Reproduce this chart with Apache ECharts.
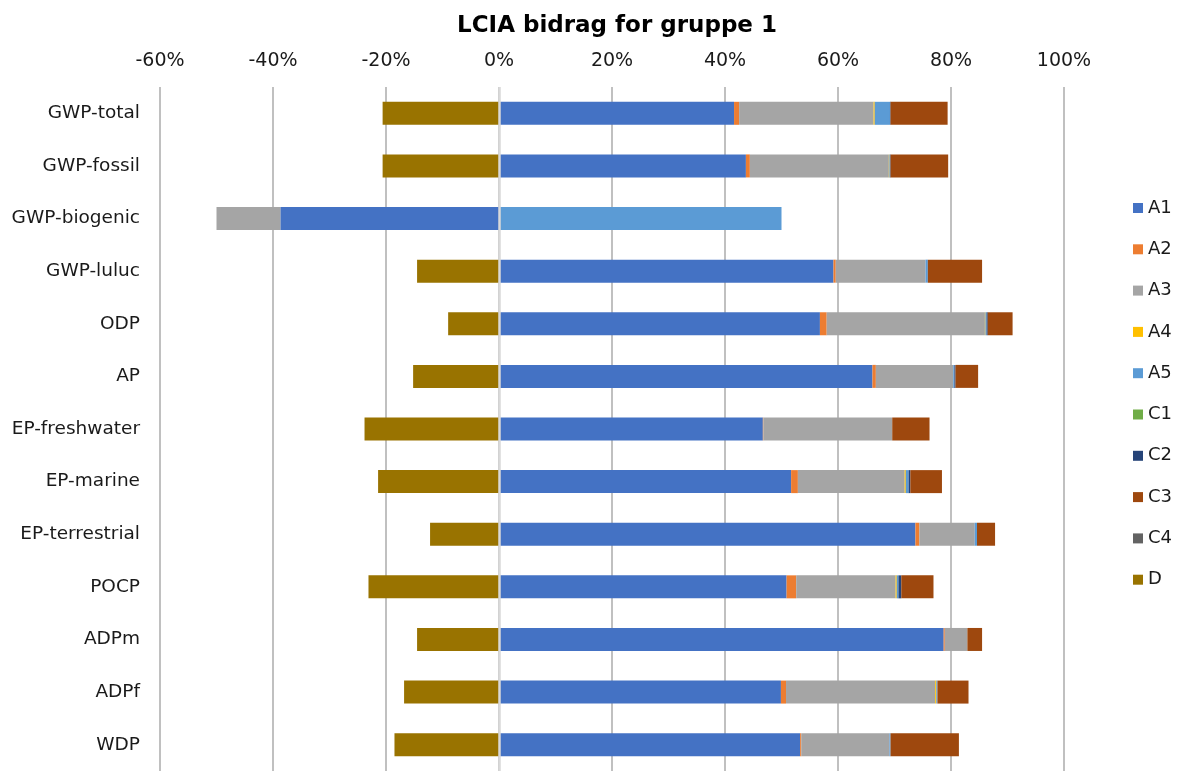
<!DOCTYPE html>
<html>
<head>
<meta charset="utf-8">
<title>LCIA bidrag for gruppe 1</title>
<script src="https://cdn.jsdelivr.net/npm/echarts@6/dist/echarts.min.js"></script>
<style>
    html, body { margin: 0; padding: 0; background: #fff; }
    #chart { width: 1179px; height: 771px; }
</style>
</head>
<body>
<div id="chart"></div>
<script>
// kategorier (topp -> bunn)
var categories = ['GWP-total', 'GWP-fossil', 'GWP-biogenic', 'GWP-luluc', 'ODP', 'AP',
    'EP-freshwater', 'EP-marine', 'EP-terrestrial', 'POCP', 'ADPm', 'ADPf', 'WDP'];

var seriesNames = ['A1', 'A2', 'A3', 'A4', 'A5', 'C1', 'C2', 'C3', 'C4', 'D'];
var seriesColors = ['#4472C4', '#ED7D31', '#A5A5A5', '#FFC000', '#5B9BD5',
    '#70AD47', '#264478', '#9E480E', '#636363', '#997300'];

// andeler i prosent
var A1 = [41.6, 43.7, -38.7, 59.2, 56.8, 66.1, 46.7, 51.7, 73.7, 50.9, 78.7, 49.9, 53.3];
var A2 = [0.9, 0.7, 0, 0.4, 1.2, 0.6, 0.1, 1.2, 0.7, 1.7, 0.2, 0.9, 0.2];
var A3 = [23.8, 24.6, -11.3, 15.9, 28.0, 13.7, 22.8, 18.9, 9.8, 17.6, 4.0, 26.4, 15.6];
var A4 = [0.2, 0.1, 0, 0, 0.1, 0, 0, 0.2, 0, 0.2, 0, 0.2, 0];
var A5 = [2.7, 0.1, 50.0, 0.4, 0.2, 0.2, 0, 0.5, 0.4, 0.3, 0, 0.2, 0.2];
var C1 = [0, 0, 0, 0, 0, 0, 0, 0, 0, 0, 0, 0, 0];
var C2 = [0.1, 0.1, 0, 0, 0.2, 0.2, 0, 0.3, 0, 0.5, 0, 0, 0];
var C3 = [10.1, 10.2, 0, 9.6, 4.4, 4.0, 6.6, 5.6, 3.2, 5.7, 2.6, 5.5, 12.1];
var C4 = [0, 0, 0, 0, 0, 0, 0, 0, 0, 0, 0, 0, 0];
var D = [-20.6, -20.6, 0, -14.5, -9.0, -15.2, -23.8, -21.4, -12.2, -23.1, -14.5, -16.8, -18.5];

var xMin = -60, xMax = 100, xStep = 20;

var seriesData = [A1, A2, A3, A4, A5, C1, C2, C3, C4, D];

var myChart = echarts.init(document.getElementById('chart'));

var fontFamily = '"DejaVu Sans", Verdana, sans-serif';

var series = seriesNames.map(function (name, i) {
    var s = {
        name: name,
        type: 'bar',
        stack: 'sum',
        barWidth: 23,
        itemStyle: {
            color: seriesColors[i]
        },
        emphasis: { disabled: true },
        data: seriesData[i]
    };
    if (i === 0) {
        // lys linje ved 0 %
        s.markLine = {
            silent: true,
            symbol: 'none',
            label: { show: false },
            lineStyle: { color: '#d9d9d9', width: 2.5, type: 'solid' },
            data: [{ xAxis: 0 }]
        };
    }
    return s;
});

var option = {
    animation: false,
    backgroundColor: '#fff',
    color: seriesColors,
    title: {
        text: 'LCIA bidrag for gruppe 1',
        left: 612,
        top: 10,
        textAlign: 'center',
        textStyle: {
            fontFamily: fontFamily,
            fontSize: 23,
            fontWeight: 'bold',
            color: '#000'
        }
    },
    legend: {
        data: seriesNames,
        orient: 'vertical',
        left: 1128,
        top: 193,
        itemWidth: 10,
        itemHeight: 10,
        itemGap: 21.3,
        icon: 'rect',
        selectedMode: false,
        textStyle: {
            fontFamily: fontFamily,
            fontSize: 18,
            lineHeight: 20,
            color: '#1a1a1a'
        }
    },
    grid: {
        left: 160,
        width: 904,
        top: 87,
        height: 692,
        containLabel: false
    },
    xAxis: {
        type: 'value',
        position: 'top',
        min: xMin,
        max: xMax,
        interval: xStep,
        axisLine: { show: false },
        axisTick: { show: false },
        axisLabel: {
            formatter: '{value}%',
            fontFamily: fontFamily,
            fontSize: 19,
            color: '#1a1a1a',
            margin: 16
        },
        splitLine: {
            show: true,
            lineStyle: { color: '#ababab', width: 1.5 }
        }
    },
    yAxis: {
        type: 'category',
        inverse: true,
        data: categories,
        axisLine: { show: false },
        axisTick: { show: false },
        axisLabel: {
            fontFamily: fontFamily,
            fontSize: 18.5,
            color: '#1a1a1a',
            margin: 20
        }
    },
    series: series
};

myChart.setOption(option);
</script>
</body>
</html>
